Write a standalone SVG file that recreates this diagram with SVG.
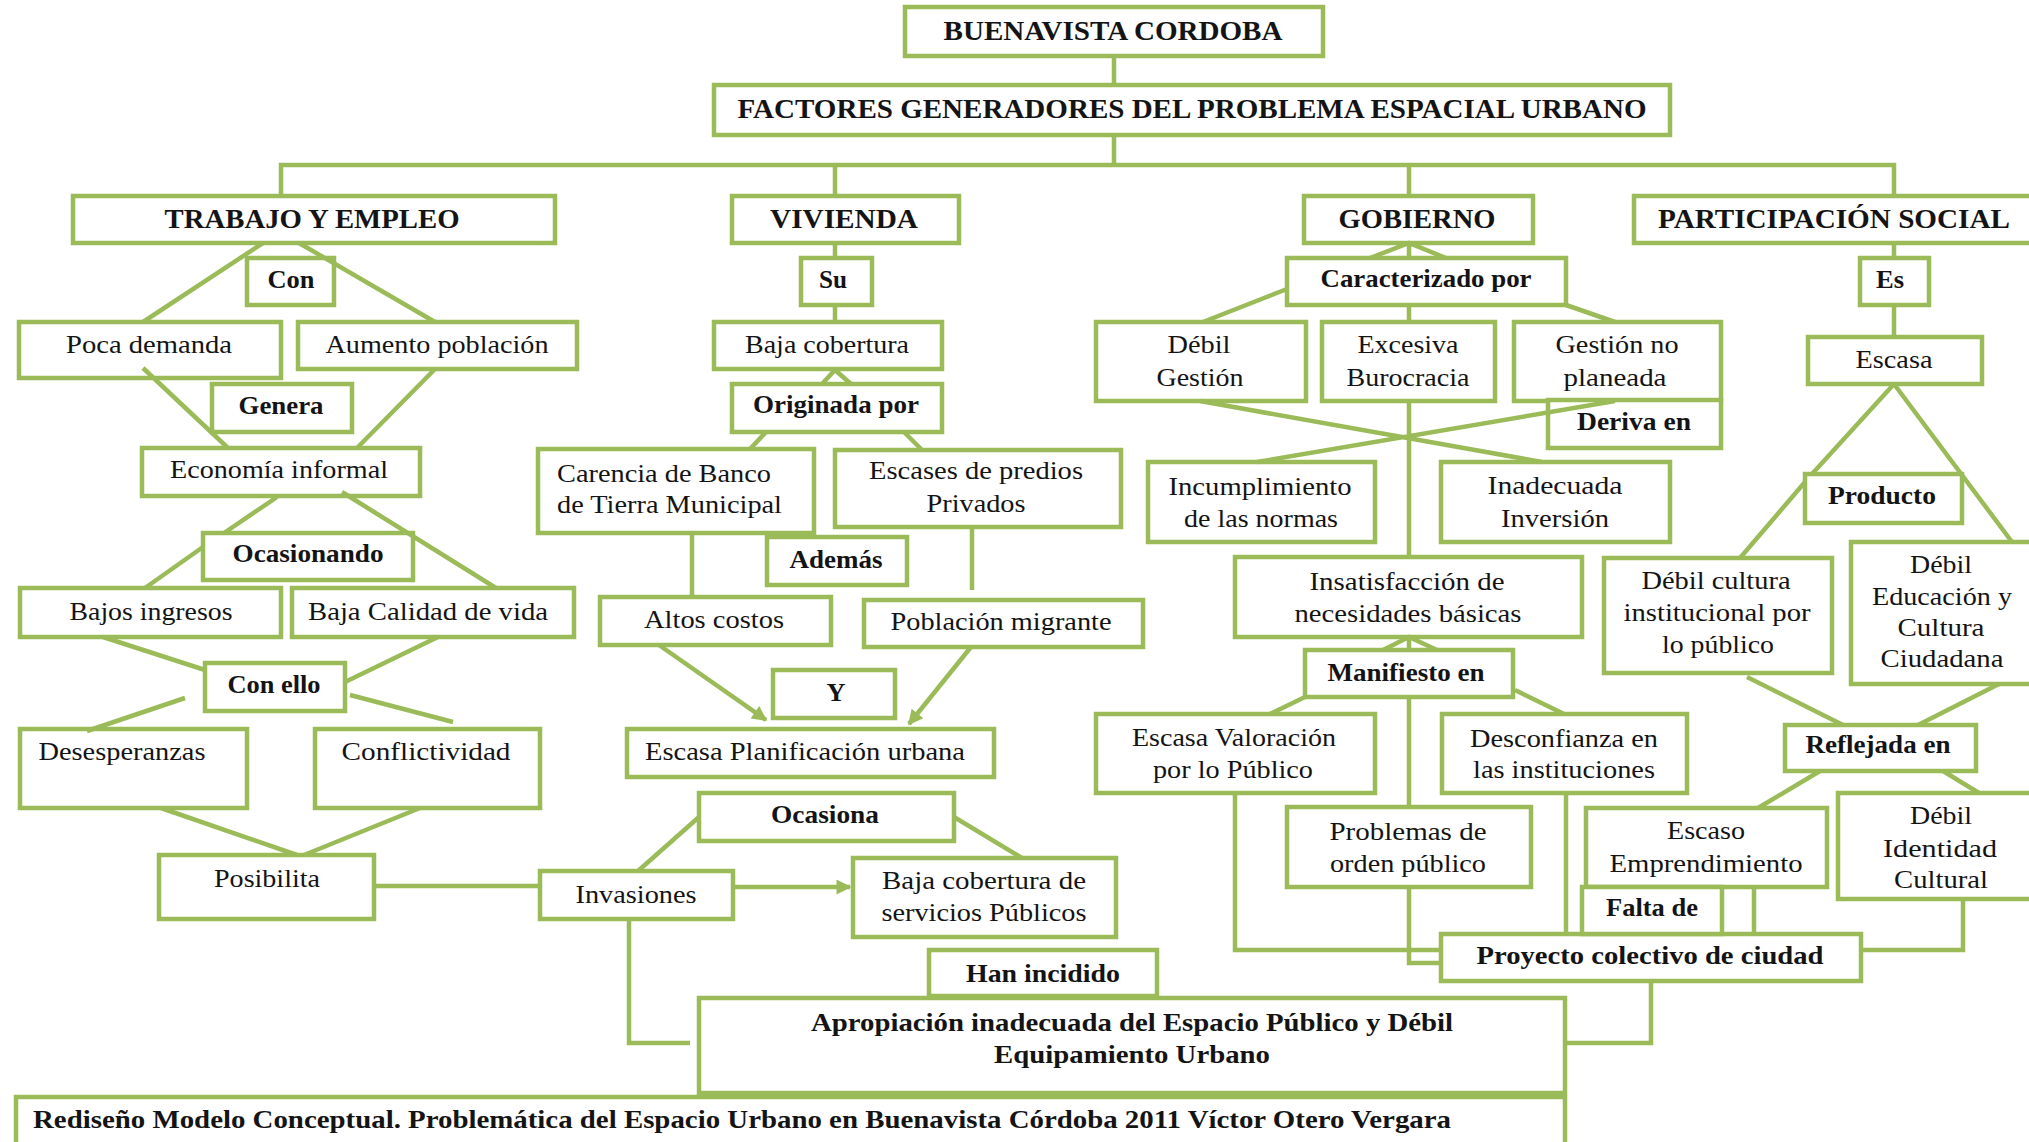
<svg xmlns="http://www.w3.org/2000/svg" width="2029" height="1142" viewBox="0 0 2029 1142">
<style>
.b{fill:#fff;stroke:#9BBB59;stroke-width:4.5}
.c{fill:none;stroke:#9BBB59;stroke-width:4.5}
text{font-family:"Liberation Serif","Times New Roman",serif;fill:#141414;text-anchor:middle}
.r{font-size:25px}
.k{font-size:25px;font-weight:bold}
.h{font-size:27px;font-weight:bold}
.s{text-anchor:start}
</style>
<defs>
<marker id="ah" viewBox="0 0 10 10" refX="9" refY="5" markerWidth="17" markerHeight="15" markerUnits="userSpaceOnUse" orient="auto"><path d="M0,0 L10,5 L0,10 z" fill="#9BBB59"/></marker>
</defs>
<rect width="2029" height="1142" fill="#fff"/>
<g id="nodes">
<g id="n1"><rect class="b" x="905" y="7" width="418" height="49"/><text class="h" x="1113" y="40" textLength="339" lengthAdjust="spacingAndGlyphs">BUENAVISTA CORDOBA</text></g>
<g id="n2"><rect class="b" x="714" y="85" width="956" height="50"/><text class="h" x="1192" y="118" textLength="909" lengthAdjust="spacingAndGlyphs">FACTORES GENERADORES DEL PROBLEMA ESPACIAL URBANO</text></g>
<g id="n3"><rect class="b" x="73" y="196" width="482" height="47"/><text class="h" x="312" y="228" textLength="295" lengthAdjust="spacingAndGlyphs">TRABAJO Y EMPLEO</text></g>
<g id="n4"><rect class="b" x="247" y="258" width="87" height="47"/><text class="k" x="291" y="288" textLength="47" lengthAdjust="spacingAndGlyphs">Con</text></g>
<g id="n5"><rect class="b" x="19" y="322" width="262" height="56"/><text class="r" x="149" y="353" textLength="166" lengthAdjust="spacingAndGlyphs">Poca demanda</text></g>
<g id="n6"><rect class="b" x="298" y="322" width="279" height="47"/><text class="r" x="437" y="353" textLength="223" lengthAdjust="spacingAndGlyphs">Aumento población</text></g>
<g id="n7"><rect class="b" x="212" y="384" width="140" height="48"/><text class="k" x="281" y="414" textLength="85" lengthAdjust="spacingAndGlyphs">Genera</text></g>
<g id="n8"><rect class="b" x="142" y="448" width="278" height="48"/><text class="r" x="279" y="478" textLength="218" lengthAdjust="spacingAndGlyphs">Economía informal</text></g>
<g id="n9"><rect class="b" x="203" y="533" width="210" height="47"/><text class="k" x="308" y="562" textLength="151" lengthAdjust="spacingAndGlyphs">Ocasionando</text></g>
<g id="n10"><rect class="b" x="20" y="588" width="261" height="49"/><text class="r" x="151" y="620" textLength="163" lengthAdjust="spacingAndGlyphs">Bajos ingresos</text></g>
<g id="n11"><rect class="b" x="292" y="588" width="282" height="49"/><text class="r" x="428" y="620" textLength="240" lengthAdjust="spacingAndGlyphs">Baja Calidad de vida</text></g>
<g id="n12"><rect class="b" x="205" y="663" width="140" height="48"/><text class="k" x="274" y="693" textLength="93" lengthAdjust="spacingAndGlyphs">Con ello</text></g>
<g id="n13"><rect class="b" x="20" y="729" width="227" height="79"/><text class="r" x="122" y="760" textLength="167" lengthAdjust="spacingAndGlyphs">Desesperanzas</text></g>
<g id="n14"><rect class="b" x="315" y="729" width="225" height="79"/><text class="r" x="426" y="760" textLength="169" lengthAdjust="spacingAndGlyphs">Conflictividad</text></g>
<g id="n15"><rect class="b" x="159" y="855" width="215" height="64"/><text class="r" x="267" y="887" textLength="106" lengthAdjust="spacingAndGlyphs">Posibilita</text></g>
<g id="n16"><rect class="b" x="732" y="196" width="227" height="47"/><text class="h" x="844" y="228" textLength="148" lengthAdjust="spacingAndGlyphs">VIVIENDA</text></g>
<g id="n17"><rect class="b" x="801" y="258" width="71" height="47"/><text class="k" x="833" y="288" textLength="28" lengthAdjust="spacingAndGlyphs">Su</text></g>
<g id="n18"><rect class="b" x="714" y="322" width="228" height="47"/><text class="r" x="827" y="353" textLength="164" lengthAdjust="spacingAndGlyphs">Baja cobertura</text></g>
<g id="n19"><rect class="b" x="732" y="384" width="210" height="48"/><text class="k" x="836" y="413" textLength="166" lengthAdjust="spacingAndGlyphs">Originada por</text></g>
<g id="n20"><rect class="b" x="538" y="449" width="276" height="84"/><text class="r s" x="557" y="482" textLength="214" lengthAdjust="spacingAndGlyphs">Carencia de Banco</text><text class="r s" x="557" y="513" textLength="225" lengthAdjust="spacingAndGlyphs">de Tierra Municipal</text></g>
<g id="n21"><rect class="b" x="835" y="450" width="286" height="77"/><text class="r" x="976" y="479" textLength="214" lengthAdjust="spacingAndGlyphs">Escases de predios</text><text class="r" x="976" y="512" textLength="99" lengthAdjust="spacingAndGlyphs">Privados</text></g>
<g id="n22"><rect class="b" x="767" y="537" width="140" height="48"/><text class="k" x="836" y="568" textLength="93" lengthAdjust="spacingAndGlyphs">Además</text></g>
<g id="n23"><rect class="b" x="600" y="597" width="231" height="48"/><text class="r" x="714" y="628" textLength="140" lengthAdjust="spacingAndGlyphs">Altos costos</text></g>
<g id="n24"><rect class="b" x="864" y="600" width="279" height="47"/><text class="r" x="1001" y="630" textLength="221" lengthAdjust="spacingAndGlyphs">Población migrante</text></g>
<g id="n25"><rect class="b" x="773" y="670" width="122" height="48"/><text class="k" x="836" y="701" textLength="19" lengthAdjust="spacingAndGlyphs">Y</text></g>
<g id="n26"><rect class="b" x="627" y="729" width="367" height="48"/><text class="r" x="805" y="760" textLength="320" lengthAdjust="spacingAndGlyphs">Escasa Planificación urbana</text></g>
<g id="n27"><rect class="b" x="699" y="793" width="255" height="48"/><text class="k" x="825" y="823" textLength="108" lengthAdjust="spacingAndGlyphs">Ocasiona</text></g>
<g id="n28"><rect class="b" x="540" y="871" width="193" height="48"/><text class="r" x="636" y="903" textLength="121" lengthAdjust="spacingAndGlyphs">Invasiones</text></g>
<g id="n29"><rect class="b" x="853" y="858" width="263" height="79"/><text class="r" x="984" y="889" textLength="204" lengthAdjust="spacingAndGlyphs">Baja cobertura de</text><text class="r" x="984" y="921" textLength="205" lengthAdjust="spacingAndGlyphs">servicios Públicos</text></g>
<g id="n30"><rect class="b" x="929" y="950" width="228" height="46"/><text class="k" x="1043" y="982" textLength="154" lengthAdjust="spacingAndGlyphs">Han incidido</text></g>
<g id="n31"><rect class="b" x="699" y="998" width="866" height="95"/><text class="k" x="1132" y="1031" textLength="642" lengthAdjust="spacingAndGlyphs">Apropiación inadecuada del Espacio Público y Débil</text><text class="k" x="1132" y="1063" textLength="276" lengthAdjust="spacingAndGlyphs">Equipamiento Urbano</text></g>
<g id="n32"><rect class="b" x="16" y="1097" width="1549" height="60"/><text class="k s" x="33" y="1128" textLength="1418" lengthAdjust="spacingAndGlyphs">Rediseño Modelo Conceptual. Problemática del Espacio Urbano en Buenavista Córdoba 2011 Víctor Otero Vergara</text></g>
<g id="n33"><rect class="b" x="1304" y="196" width="229" height="47"/><text class="h" x="1417" y="228" textLength="157" lengthAdjust="spacingAndGlyphs">GOBIERNO</text></g>
<g id="n34"><rect class="b" x="1287" y="258" width="279" height="47"/><text class="k" x="1426" y="287" textLength="211" lengthAdjust="spacingAndGlyphs">Caracterizado por</text></g>
<g id="n35"><rect class="b" x="1096" y="322" width="210" height="79"/><text class="r" x="1199" y="353" textLength="63" lengthAdjust="spacingAndGlyphs">Débil</text><text class="r" x="1200" y="386" textLength="87" lengthAdjust="spacingAndGlyphs">Gestión</text></g>
<g id="n36"><rect class="b" x="1322" y="322" width="173" height="79"/><text class="r" x="1408" y="353" textLength="101" lengthAdjust="spacingAndGlyphs">Excesiva</text><text class="r" x="1408" y="386" textLength="123" lengthAdjust="spacingAndGlyphs">Burocracia</text></g>
<g id="n37"><rect class="b" x="1514" y="322" width="207" height="79"/><text class="r" x="1617" y="353" textLength="123" lengthAdjust="spacingAndGlyphs">Gestión no</text><text class="r" x="1615" y="386" textLength="103" lengthAdjust="spacingAndGlyphs">planeada</text></g>
<g id="n38"><rect class="b" x="1548" y="400" width="173" height="48"/><text class="k" x="1634" y="430" textLength="114" lengthAdjust="spacingAndGlyphs">Deriva en</text></g>
<g id="n39"><rect class="b" x="1148" y="462" width="227" height="80"/><text class="r" x="1260" y="495" textLength="183" lengthAdjust="spacingAndGlyphs">Incumplimiento</text><text class="r" x="1261" y="527" textLength="154" lengthAdjust="spacingAndGlyphs">de las normas</text></g>
<g id="n40"><rect class="b" x="1441" y="462" width="229" height="80"/><text class="r" x="1555" y="494" textLength="135" lengthAdjust="spacingAndGlyphs">Inadecuada</text><text class="r" x="1555" y="527" textLength="108" lengthAdjust="spacingAndGlyphs">Inversión</text></g>
<g id="n41"><rect class="b" x="1235" y="557" width="347" height="80"/><text class="r" x="1407" y="590" textLength="195" lengthAdjust="spacingAndGlyphs">Insatisfacción de</text><text class="r" x="1408" y="622" textLength="227" lengthAdjust="spacingAndGlyphs">necesidades básicas</text></g>
<g id="n42"><rect class="b" x="1305" y="650" width="208" height="47"/><text class="k" x="1406" y="681" textLength="157" lengthAdjust="spacingAndGlyphs">Manifiesto en</text></g>
<g id="n43"><rect class="b" x="1096" y="714" width="279" height="79"/><text class="r" x="1234" y="746" textLength="204" lengthAdjust="spacingAndGlyphs">Escasa Valoración</text><text class="r" x="1233" y="778" textLength="160" lengthAdjust="spacingAndGlyphs">por lo Público</text></g>
<g id="n44"><rect class="b" x="1442" y="714" width="245" height="79"/><text class="r" x="1564" y="747" textLength="188" lengthAdjust="spacingAndGlyphs">Desconfianza en</text><text class="r" x="1564" y="778" textLength="182" lengthAdjust="spacingAndGlyphs">las instituciones</text></g>
<g id="n45"><rect class="b" x="1287" y="807" width="244" height="80"/><text class="r" x="1408" y="840" textLength="157" lengthAdjust="spacingAndGlyphs">Problemas de</text><text class="r" x="1408" y="872" textLength="156" lengthAdjust="spacingAndGlyphs">orden público</text></g>
<g id="n46"><rect class="b" x="1441" y="934" width="420" height="47"/><text class="k" x="1650" y="964" textLength="347" lengthAdjust="spacingAndGlyphs">Proyecto colectivo de ciudad</text></g>
<g id="n47"><rect class="b" x="1634" y="196" width="410" height="47"/><text class="h" x="1834" y="228" textLength="352" lengthAdjust="spacingAndGlyphs">PARTICIPACIÓN SOCIAL</text></g>
<g id="n48"><rect class="b" x="1860" y="258" width="69" height="47"/><text class="k" x="1890" y="288" textLength="28" lengthAdjust="spacingAndGlyphs">Es</text></g>
<g id="n49"><rect class="b" x="1808" y="337" width="174" height="47"/><text class="r" x="1894" y="368" textLength="77" lengthAdjust="spacingAndGlyphs">Escasa</text></g>
<g id="n50"><rect class="b" x="1805" y="474" width="157" height="49"/><text class="k" x="1882" y="504" textLength="108" lengthAdjust="spacingAndGlyphs">Producto</text></g>
<g id="n51"><rect class="b" x="1604" y="558" width="228" height="115"/><text class="r" x="1716" y="589" textLength="149" lengthAdjust="spacingAndGlyphs">Débil cultura</text><text class="r" x="1717" y="621" textLength="187" lengthAdjust="spacingAndGlyphs">institucional por</text><text class="r" x="1718" y="653" textLength="112" lengthAdjust="spacingAndGlyphs">lo público</text></g>
<g id="n52"><rect class="b" x="1851" y="542" width="195" height="142"/><text class="r" x="1941" y="573" textLength="62" lengthAdjust="spacingAndGlyphs">Débil</text><text class="r" x="1942" y="605" textLength="140" lengthAdjust="spacingAndGlyphs">Educación y</text><text class="r" x="1941" y="636" textLength="87" lengthAdjust="spacingAndGlyphs">Cultura</text><text class="r" x="1942" y="667" textLength="123" lengthAdjust="spacingAndGlyphs">Ciudadana</text></g>
<g id="n53"><rect class="b" x="1785" y="725" width="191" height="46"/><text class="k" x="1878" y="753" textLength="145" lengthAdjust="spacingAndGlyphs">Reflejada en</text></g>
<g id="n54"><rect class="b" x="1586" y="808" width="241" height="79"/><text class="r" x="1706" y="839" textLength="78" lengthAdjust="spacingAndGlyphs">Escaso</text><text class="r" x="1706" y="872" textLength="193" lengthAdjust="spacingAndGlyphs">Emprendimiento</text></g>
<g id="n55"><rect class="b" x="1582" y="887" width="140" height="47"/><text class="k" x="1652" y="916" textLength="92" lengthAdjust="spacingAndGlyphs">Falta de</text></g>
<g id="n56"><rect class="b" x="1838" y="793" width="210" height="106"/><text class="r" x="1941" y="824" textLength="62" lengthAdjust="spacingAndGlyphs">Débil</text><text class="r" x="1940" y="857" textLength="114" lengthAdjust="spacingAndGlyphs">Identidad</text><text class="r" x="1941" y="888" textLength="94" lengthAdjust="spacingAndGlyphs">Cultural</text></g>
</g>
<g id="connectors" class="c">
<path d="M1114,56 V85 M1114,135 V165 M281,196 V165 H1894 V196 M835,165 V196 M1409,165 V196"/>
<path d="M263,243 L143,322 M299,243 L435,322 M143,368 L228,448 M435,369 L357,448"/>
<path d="M277,497 L224,533 M203,547 L145,588 M342,492 L496,588"/>
<path d="M103,637 L205,670 M438,637 L345,682 M185,698 L87,731 M350,695 L453,722"/>
<path d="M161,808 L297,855 M420,808 L304,855 M374,886 H540 M629,919 V1043 H690"/>
<path d="M638,871 L699,817 M954,817 L1022,858"/>
<path d="M733,887 L850,887" marker-end="url(#ah)"/>
<path d="M835,243 V258 M835,305 V322 M822,384 L835,370 L851,384 M766,432 L750,449 M904,432 L922,450 M692,533 V597 M972,527 V590"/>
<path d="M659,645 L766,720" marker-end="url(#ah)"/>
<path d="M971,647 L909,724" marker-end="url(#ah)"/>
<path d="M1370,258 L1409,243 L1446,258 M1409,243 V258 M1287,289 L1203,322 M1409,305 V322 M1566,305 L1615,322"/>
<path d="M1200,401 L1542,462 M1615,401 L1257,462 M1409,401 V557"/>
<path d="M1383,650 L1409,637 L1437,650 M1409,637 V650 M1305,697 L1270,714 M1515,690 L1564,714 M1409,697 V807"/>
<path d="M1235,793 V950 H1441 M1409,887 V963 H1441 M1566,793 V934 M1754,887 V934 M1963,899 V950 H1861 M1651,981 V1043 H1565"/>
<path d="M1894,243 V258 M1894,305 V337 M1894,384 L1812,474 M1805,482 L1740,558 M1894,384 L2012,542"/>
<path d="M1747,677 L1843,725 M1999,684 L1918,725 M1820,771 L1758,808 M1943,771 L1979,793"/>
</g>
</svg>
